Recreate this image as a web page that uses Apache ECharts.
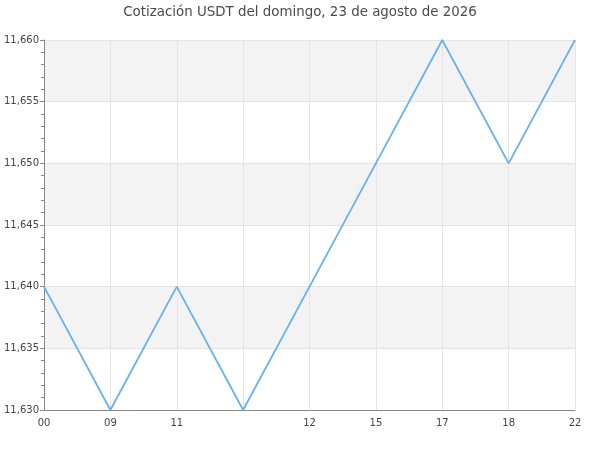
<!DOCTYPE html>
<html>
<head>
<meta charset="utf-8">
<script src="https://cdn.jsdelivr.net/npm/echarts@6/dist/echarts.min.js"></script>
<style>
  html, body { margin: 0; padding: 0; background: #fff; }
  #chart { width: 600px; height: 450px; }
</style>
</head>
<body>
<div id="chart"></div>
<script>
// datos
const titleText = 'Cotización USDT del domingo, 23 de agosto de 2026'
const hours = ['00', '09', '11', '', '12', '15', '17', '18', '22']
const prices = [11640, 11630, 11640, 11630, 11640, 11650, 11660, 11650, 11660]

let chart = echarts.init(document.getElementById('chart'))
let font = 'DejaVu Sans'

chart.setOption({
  animation: false,
  title: {
    text: titleText,
    left: 'center',
    top: 1,
    textStyle: { fontFamily: font, fontSize: 13.4, fontWeight: 'normal', color: '#4a4a4a' }
  },
  grid: { left: 44, right: 25, top: 40, bottom: 40 },
  xAxis: {
    type: 'category',
    data: hours,
    boundaryGap: false,
    axisLine: { lineStyle: { color: '#888' } },
    axisTick: { show: false },
    axisLabel: { fontFamily: font, fontSize: 10, color: '#444', margin: 8, interval: 0 },
    splitLine: { show: true, lineStyle: { color: '#e4e4e4' } }
  },
  yAxis: {
    type: 'value',
    min: 11630,
    max: 11660,
    interval: 5,
    axisLine: { show: true, lineStyle: { color: '#888' } },
    axisTick: { show: true, length: 4, lineStyle: { color: '#888' } },
    minorTick: { show: true, splitNumber: 5, length: 3, lineStyle: { color: '#888' } },
    axisLabel: {
      fontFamily: font, fontSize: 10, color: '#444', margin: 5,
      formatter: v => v.toLocaleString('en-US')
    },
    splitLine: { lineStyle: { color: '#e4e4e4' } },
    splitArea: { show: true, areaStyle: { color: ['rgba(255,255,255,0)', '#f3f3f3'] } }
  },
  series: [{
    type: 'line',
    data: prices,
    showSymbol: false,
    symbol: 'none',
    lineStyle: { color: '#6aaff0', width: 1.8 }
  }]
})
</script>
</body>
</html>
